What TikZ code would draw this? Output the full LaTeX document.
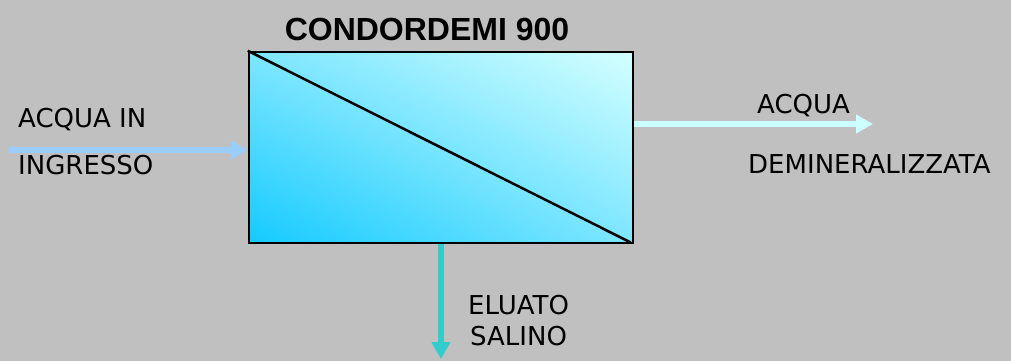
\documentclass[tikz,border=0pt]{standalone}
\usepackage{fontspec}
\setmainfont{DejaVu Sans}
\newfontfamily\titlefont{Liberation Sans}
\usetikzlibrary{arrows.meta,positioning,shadings}

\definecolor{bggray}{RGB}{192,192,192}
\definecolor{inflow}{RGB}{153,204,255}
\definecolor{outflow}{RGB}{204,255,255}
\definecolor{drainflow}{RGB}{51,204,204}
\definecolor{unitdark}{RGB}{20,202,255}
\definecolor{unitmid}{RGB}{125,230,255}
\definecolor{unitlight}{RGB}{212,255,255}

\begin{document}
\begin{tikzpicture}[x=1pt, y=-1pt]

		\tikzstyle{unitbox}=[rectangle, draw=black, line width=2.5pt, minimum width=384pt, minimum height=191pt, inner sep=0pt, shade, lower left=unitdark, upper right=unitlight, upper left=unitmid, lower right=unitmid]
		\tikzstyle{label}=[font=\fontsize{26}{30}\selectfont, text=black, inner sep=0pt]
		\tikzstyle{title}=[font=\titlefont\bfseries\fontsize{32}{36}\selectfont, text=black, inner sep=0pt]
		\tikzstyle{flow}=[line width=6.5pt, -{Triangle[length=17pt, width=18pt]}]

		% background and page size
		\fill[bggray] (0,0) rectangle (1011,361);
		\useasboundingbox (0,0) rectangle (1011,361);

		% the unit
		\node[unitbox] (unit) at (441,147.5) {};
		\draw[line width=2.5pt, shorten >=4pt] (unit.north west) -- (unit.south east);
		\node[title, anchor=base] (name) at (427,41) {CONDORDEMI 900};

		% flow ends
		\coordinate (in)    at (9,150);
		\coordinate (out)   at (873,124);
		\coordinate (drain) at (441,359);

		% flows
		\draw[flow, inflow]    (in) -- (in -| unit.west);
		\draw[flow, outflow]   (out -| unit.east) -- (out);
		\draw[flow, drainflow] (unit.south) -- (drain);

		% labels
		\node[label, anchor=base west] (in1)  at (18,127) {ACQUA IN};
		\node[label, anchor=base west] (in2)  at (18,174) {INGRESSO};
		\node[label, anchor=base west] (out1) at (757,113) {ACQUA};
		\node[label, anchor=base west] (out2) at (748,173) {DEMINERALIZZATA};
		\node[label, anchor=base west] (dr1)  at (468,314) {ELUATO};
		\node[label, anchor=base west] (dr2)  at (470,345) {SALINO};

\end{tikzpicture}
\end{document}
